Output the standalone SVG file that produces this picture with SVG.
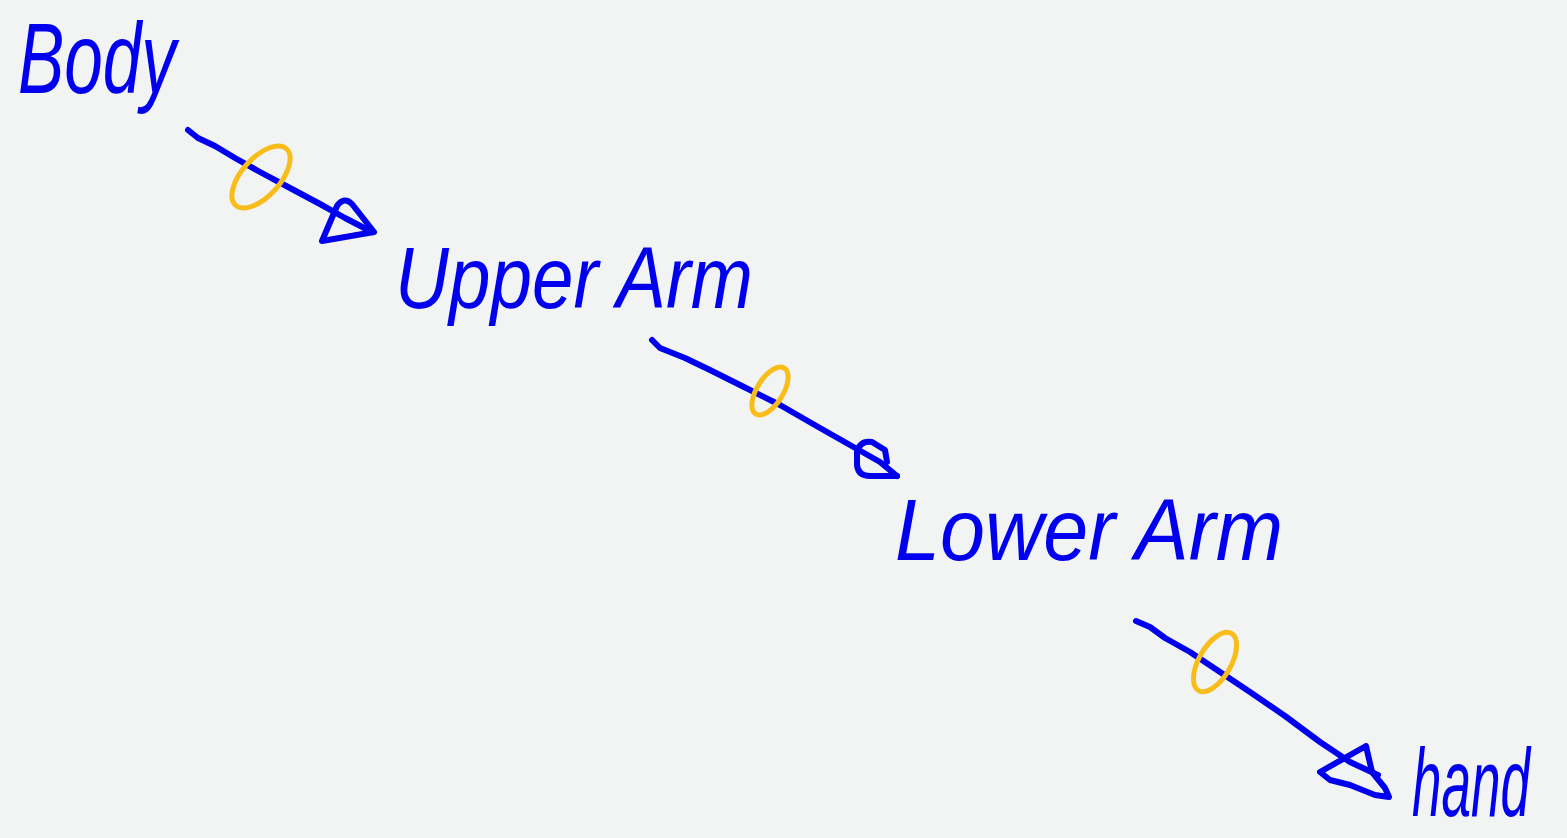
<svg xmlns="http://www.w3.org/2000/svg" width="1567" height="838" viewBox="0 0 1567 838">
<style>
.lbl{font-family:"Liberation Sans",Arial,sans-serif;font-style:italic;fill:#0000ee}
.ln{fill:none;stroke:#0000ee;stroke-width:6;stroke-linecap:round;stroke-linejoin:round}
.ring{fill:none;stroke:#f9bd1b;stroke-width:5}
</style>
<rect width="1567" height="838" fill="#f1f4f3"/>
<g id="body"><text class="lbl" x="18" y="93" font-size="100" textLength="158" lengthAdjust="spacingAndGlyphs">Body</text></g>
<g id="upper-arm"><text class="lbl" x="395" y="308" font-size="88" textLength="358" lengthAdjust="spacingAndGlyphs">Upper Arm</text></g>
<g id="lower-arm"><text class="lbl" x="895" y="560" font-size="88" textLength="388" lengthAdjust="spacingAndGlyphs">Lower Arm</text></g>
<g id="hand"><text class="lbl" x="1412" y="816" font-size="96" textLength="118" lengthAdjust="spacingAndGlyphs">hand</text></g>
<g id="connectors">
<path class="ln" d="M188 130 L198 138 L215 146 L235 158 L260 172 L290 188 L320 204 L345 218 L372 232"/>
<path class="ln" d="M374 232 L352 204 Q344 196 337 206 L322 241 L374 232"/>
<ellipse class="ring" cx="261" cy="177" rx="38" ry="19" transform="rotate(-48 261 177)"/>
<path class="ln" d="M652 340 L660 348 L685 358 L710 370 L740 385 L780 405 L820 428 L850 445 L880 462 L897 476"/>
<path class="ln" d="M897 476 L870 476 Q858 476 857 465 L857 452 Q860 440 872 442 L885 450 L887 462"/>
<ellipse class="ring" cx="770" cy="391" rx="27" ry="13" transform="rotate(-58 770 391)"/>
<path class="ln" d="M1136 621 L1150 627 L1165 638 L1190 652 L1220 672 L1250 692 L1285 716 L1320 742 L1350 762 L1378 775"/>
<path class="ln" d="M1366 746 L1320 772 L1330 780 L1350 785 L1375 795 L1389 797 L1385 788 L1372 772 Z"/>
<ellipse class="ring" cx="1215" cy="662" rx="33" ry="16" transform="rotate(-60 1215 662)"/>
</g>
</svg>
